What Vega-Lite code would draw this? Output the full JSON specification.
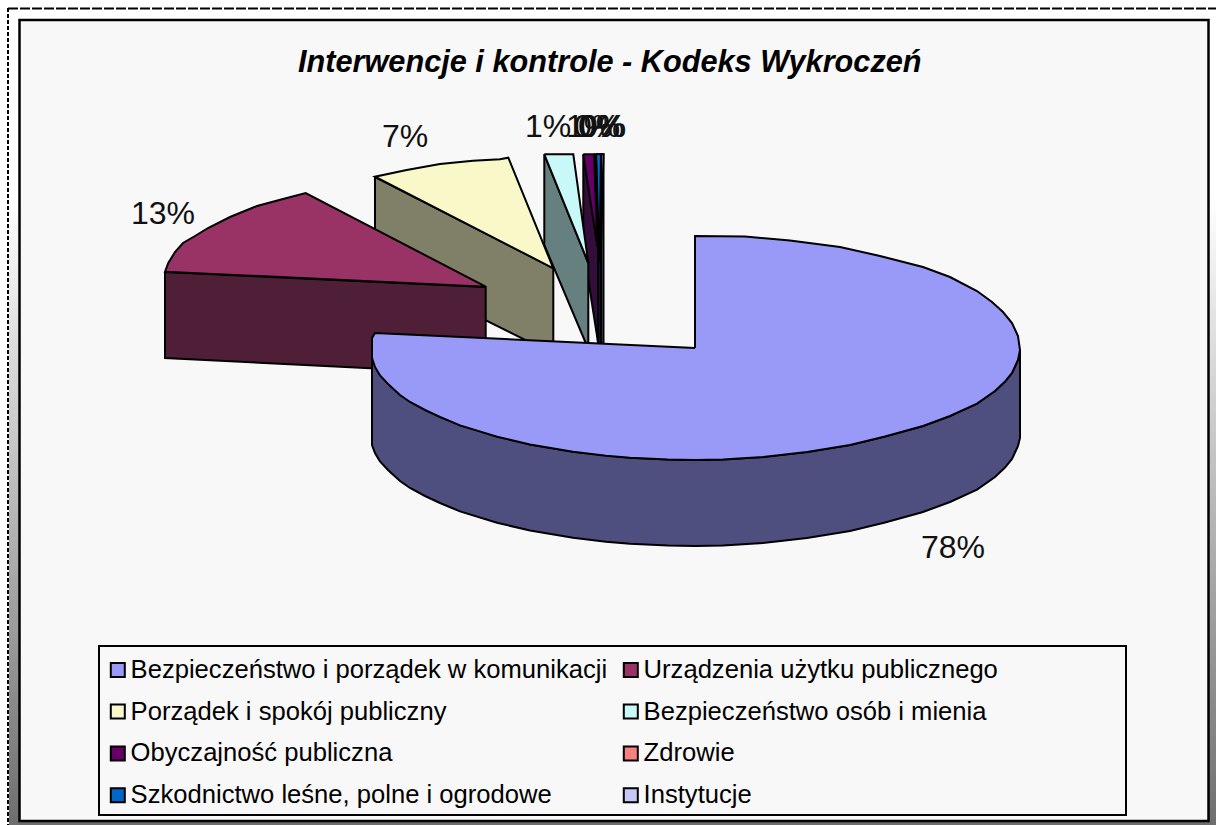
{"$schema":"https://vega.github.io/schema/vega-lite/v6.json","width":1216,"height":825,"padding":0,"autosize":"none","background":"white","config":{"view":{"stroke":null},"font":"Liberation Sans"},"title":{"text":"Interwencje i kontrole - Kodeks Wykroczeń","font":"Liberation Sans","fontSize":30.7,"fontStyle":"italic","fontWeight":"bold","color":"black","anchor":"start","dx":298,"dy":103,"offset":0,"baseline":"alphabetic"},"datasets":{"one":[{"k":1}],"main":[
{"face":"wall","seq":1,"x":1020,"y":350},{"face":"wall","seq":2,"x":1018,"y":360},{"face":"wall","seq":3,"x":1012,"y":373},{"face":"wall","seq":4,"x":1005,"y":381.6},{"face":"wall","seq":5,"x":995,"y":391},{"face":"wall","seq":6,"x":977,"y":403.6},{"face":"wall","seq":7,"x":950,"y":416},{"face":"wall","seq":8,"x":923,"y":426},{"face":"wall","seq":9,"x":885,"y":436.5},{"face":"wall","seq":10,"x":850,"y":445},{"face":"wall","seq":11,"x":807,"y":452},{"face":"wall","seq":12,"x":763,"y":457},{"face":"wall","seq":13,"x":723,"y":459.5},{"face":"wall","seq":14,"x":695,"y":460},{"face":"wall","seq":15,"x":668,"y":459.6},{"face":"wall","seq":16,"x":630,"y":457.7},{"face":"wall","seq":17,"x":573,"y":451.8},{"face":"wall","seq":18,"x":530,"y":444.5},{"face":"wall","seq":19,"x":460,"y":425.4},{"face":"wall","seq":20,"x":400,"y":395},{"face":"wall","seq":21,"x":372,"y":358},{"face":"wall","seq":22,"x":372,"y":445},{"face":"wall","seq":23,"x":375,"y":453},{"face":"wall","seq":24,"x":380,"y":461.5},{"face":"wall","seq":25,"x":388,"y":470},{"face":"wall","seq":26,"x":400,"y":481},{"face":"wall","seq":27,"x":410,"y":488},{"face":"wall","seq":28,"x":425,"y":496},{"face":"wall","seq":29,"x":440,"y":503},{"face":"wall","seq":30,"x":460,"y":511.4},{"face":"wall","seq":31,"x":497,"y":522.8},{"face":"wall","seq":32,"x":530,"y":530.5},{"face":"wall","seq":33,"x":573,"y":537.8},{"face":"wall","seq":34,"x":606,"y":541.7},{"face":"wall","seq":35,"x":630,"y":543.7},{"face":"wall","seq":36,"x":668,"y":545.6},{"face":"wall","seq":37,"x":695,"y":546},{"face":"wall","seq":38,"x":723,"y":545.5},{"face":"wall","seq":39,"x":763,"y":543},{"face":"wall","seq":40,"x":807,"y":538},{"face":"wall","seq":41,"x":850,"y":531},{"face":"wall","seq":42,"x":885,"y":522.5},{"face":"wall","seq":43,"x":923,"y":512},{"face":"wall","seq":44,"x":950,"y":502},{"face":"wall","seq":45,"x":977,"y":489.6},{"face":"wall","seq":46,"x":995,"y":477},{"face":"wall","seq":47,"x":1005,"y":467.6},{"face":"wall","seq":48,"x":1012,"y":459},{"face":"wall","seq":49,"x":1018,"y":446},{"face":"wall","seq":50,"x":1020,"y":438},{"face":"wall","seq":51,"x":1020,"y":350},
{"face":"top","seq":1,"x":695,"y":348},{"face":"top","seq":2,"x":695,"y":236},{"face":"top","seq":3,"x":745,"y":236.5},{"face":"top","seq":4,"x":790,"y":240.5},{"face":"top","seq":5,"x":840,"y":247},{"face":"top","seq":6,"x":880,"y":256},{"face":"top","seq":7,"x":923,"y":267},{"face":"top","seq":8,"x":950,"y":277},{"face":"top","seq":9,"x":977,"y":291},{"face":"top","seq":10,"x":992,"y":302},{"face":"top","seq":11,"x":1003,"y":312},{"face":"top","seq":12,"x":1012,"y":323},{"face":"top","seq":13,"x":1018,"y":336},{"face":"top","seq":14,"x":1020,"y":350},{"face":"top","seq":15,"x":1018,"y":360},{"face":"top","seq":16,"x":1012,"y":373},{"face":"top","seq":17,"x":1005,"y":381.6},{"face":"top","seq":18,"x":995,"y":391},{"face":"top","seq":19,"x":977,"y":403.6},{"face":"top","seq":20,"x":950,"y":416},{"face":"top","seq":21,"x":923,"y":426},{"face":"top","seq":22,"x":885,"y":436.5},{"face":"top","seq":23,"x":850,"y":445},{"face":"top","seq":24,"x":807,"y":452},{"face":"top","seq":25,"x":763,"y":457},{"face":"top","seq":26,"x":723,"y":459.5},{"face":"top","seq":27,"x":695,"y":460},{"face":"top","seq":28,"x":668,"y":459.6},{"face":"top","seq":29,"x":630,"y":457.7},{"face":"top","seq":30,"x":606,"y":455.7},{"face":"top","seq":31,"x":573,"y":451.8},{"face":"top","seq":32,"x":530,"y":444.5},{"face":"top","seq":33,"x":497,"y":436.8},{"face":"top","seq":34,"x":460,"y":425.4},{"face":"top","seq":35,"x":440,"y":417},{"face":"top","seq":36,"x":425,"y":410},{"face":"top","seq":37,"x":410,"y":402},{"face":"top","seq":38,"x":400,"y":395},{"face":"top","seq":39,"x":388,"y":384},{"face":"top","seq":40,"x":380,"y":375.5},{"face":"top","seq":41,"x":375,"y":367},{"face":"top","seq":42,"x":372,"y":358},{"face":"top","seq":43,"x":372,"y":338},{"face":"top","seq":44,"x":375,"y":333},{"face":"top","seq":45,"x":695,"y":348}
],"shapes":[
{"slice":"Instytucje","face":"wall","seq":1,"x":601,"y":154.3},{"slice":"Instytucje","face":"wall","seq":2,"x":603.5,"y":154.3},{"slice":"Instytucje","face":"wall","seq":3,"x":603.5,"y":344},{"slice":"Instytucje","face":"wall","seq":4,"x":601,"y":344},{"slice":"Instytucje","face":"wall","seq":5,"x":601,"y":154.3},
{"slice":"Szkodnictwo leśne, polne i ogrodowe","face":"wall","seq":1,"x":596,"y":154.3},{"slice":"Szkodnictwo leśne, polne i ogrodowe","face":"wall","seq":2,"x":598.5,"y":250},{"slice":"Szkodnictwo leśne, polne i ogrodowe","face":"wall","seq":3,"x":598.5,"y":343},{"slice":"Szkodnictwo leśne, polne i ogrodowe","face":"wall","seq":4,"x":601,"y":343},{"slice":"Szkodnictwo leśne, polne i ogrodowe","face":"wall","seq":5,"x":601,"y":154.3},{"slice":"Szkodnictwo leśne, polne i ogrodowe","face":"wall","seq":6,"x":596,"y":154.3},
{"slice":"Zdrowie","face":"wall","seq":1,"x":594,"y":154.3},{"slice":"Zdrowie","face":"wall","seq":2,"x":598,"y":250},{"slice":"Zdrowie","face":"wall","seq":3,"x":598,"y":343},{"slice":"Zdrowie","face":"wall","seq":4,"x":594,"y":250},{"slice":"Zdrowie","face":"wall","seq":5,"x":594,"y":154.3},
{"slice":"Obyczajność publiczna","face":"wall","seq":1,"x":583.3,"y":154.3},{"slice":"Obyczajność publiczna","face":"wall","seq":2,"x":598,"y":247},{"slice":"Obyczajność publiczna","face":"wall","seq":3,"x":598,"y":342},{"slice":"Obyczajność publiczna","face":"wall","seq":4,"x":583.3,"y":248},{"slice":"Obyczajność publiczna","face":"wall","seq":5,"x":583.3,"y":154.3},
{"slice":"Bezpieczeństwo osób i mienia","face":"wall","seq":1,"x":544.3,"y":154.3},{"slice":"Bezpieczeństwo osób i mienia","face":"wall","seq":2,"x":588.3,"y":263},{"slice":"Bezpieczeństwo osób i mienia","face":"wall","seq":3,"x":588.3,"y":349},{"slice":"Bezpieczeństwo osób i mienia","face":"wall","seq":4,"x":544.3,"y":245},{"slice":"Bezpieczeństwo osób i mienia","face":"wall","seq":5,"x":544.3,"y":154.3},
{"slice":"Porządek i spokój publiczny","face":"wall","seq":1,"x":375,"y":177},{"slice":"Porządek i spokój publiczny","face":"wall","seq":2,"x":553.3,"y":268},{"slice":"Porządek i spokój publiczny","face":"wall","seq":3,"x":553.3,"y":354},{"slice":"Porządek i spokój publiczny","face":"wall","seq":4,"x":375,"y":265},{"slice":"Porządek i spokój publiczny","face":"wall","seq":5,"x":375,"y":177},
{"slice":"Urządzenia użytku publicznego","face":"wall","seq":1,"x":165,"y":272},{"slice":"Urządzenia użytku publicznego","face":"wall","seq":2,"x":485.7,"y":287},{"slice":"Urządzenia użytku publicznego","face":"wall","seq":3,"x":485.7,"y":374},{"slice":"Urządzenia użytku publicznego","face":"wall","seq":4,"x":165,"y":358},{"slice":"Urządzenia użytku publicznego","face":"wall","seq":5,"x":165,"y":272},
{"slice":"Instytucje","face":"top","seq":1,"x":601,"y":154.3},{"slice":"Instytucje","face":"top","seq":2,"x":603.5,"y":154.3},{"slice":"Instytucje","face":"top","seq":3,"x":601,"y":250},{"slice":"Instytucje","face":"top","seq":4,"x":601,"y":154.3},
{"slice":"Szkodnictwo leśne, polne i ogrodowe","face":"top","seq":1,"x":596,"y":154.3},{"slice":"Szkodnictwo leśne, polne i ogrodowe","face":"top","seq":2,"x":601,"y":154.3},{"slice":"Szkodnictwo leśne, polne i ogrodowe","face":"top","seq":3,"x":599.5,"y":262},{"slice":"Szkodnictwo leśne, polne i ogrodowe","face":"top","seq":4,"x":596,"y":154.3},
{"slice":"Zdrowie","face":"top","seq":1,"x":594,"y":154.3},{"slice":"Zdrowie","face":"top","seq":2,"x":596,"y":154.3},{"slice":"Zdrowie","face":"top","seq":3,"x":598,"y":250},{"slice":"Zdrowie","face":"top","seq":4,"x":594,"y":154.3},
{"slice":"Obyczajność publiczna","face":"top","seq":1,"x":583.3,"y":154.3},{"slice":"Obyczajność publiczna","face":"top","seq":2,"x":594,"y":154.3},{"slice":"Obyczajność publiczna","face":"top","seq":3,"x":597.5,"y":247},{"slice":"Obyczajność publiczna","face":"top","seq":4,"x":583.3,"y":154.3},
{"slice":"Bezpieczeństwo osób i mienia","face":"top","seq":1,"x":544.3,"y":154.3},{"slice":"Bezpieczeństwo osób i mienia","face":"top","seq":2,"x":573.3,"y":154.3},{"slice":"Bezpieczeństwo osób i mienia","face":"top","seq":3,"x":588.3,"y":263},{"slice":"Bezpieczeństwo osób i mienia","face":"top","seq":4,"x":544.3,"y":154.3},
{"slice":"Porządek i spokój publiczny","face":"top","seq":1,"x":553.3,"y":268.3},{"slice":"Porządek i spokój publiczny","face":"top","seq":2,"x":375,"y":176.7},{"slice":"Porządek i spokój publiczny","face":"top","seq":3,"x":406.7,"y":170},{"slice":"Porządek i spokój publiczny","face":"top","seq":4,"x":440,"y":164},{"slice":"Porządek i spokój publiczny","face":"top","seq":5,"x":473,"y":160.7},{"slice":"Porządek i spokój publiczny","face":"top","seq":6,"x":500,"y":159.3},{"slice":"Porządek i spokój publiczny","face":"top","seq":7,"x":508.3,"y":157.7},{"slice":"Porządek i spokój publiczny","face":"top","seq":8,"x":553.3,"y":268.3},
{"slice":"Urządzenia użytku publicznego","face":"top","seq":1,"x":485.7,"y":286.7},{"slice":"Urządzenia użytku publicznego","face":"top","seq":2,"x":165,"y":271.7},{"slice":"Urządzenia użytku publicznego","face":"top","seq":3,"x":168.3,"y":263},{"slice":"Urządzenia użytku publicznego","face":"top","seq":4,"x":175,"y":252},{"slice":"Urządzenia użytku publicznego","face":"top","seq":5,"x":183,"y":243},{"slice":"Urządzenia użytku publicznego","face":"top","seq":6,"x":195,"y":236},{"slice":"Urządzenia użytku publicznego","face":"top","seq":7,"x":208,"y":228},{"slice":"Urządzenia użytku publicznego","face":"top","seq":8,"x":230,"y":217},{"slice":"Urządzenia użytku publicznego","face":"top","seq":9,"x":257,"y":206},{"slice":"Urządzenia użytku publicznego","face":"top","seq":10,"x":283,"y":199},{"slice":"Urządzenia użytku publicznego","face":"top","seq":11,"x":305.7,"y":193},{"slice":"Urządzenia użytku publicznego","face":"top","seq":12,"x":485.7,"y":286.7}
],"labels":[{"label":"78%","x":921,"y":558},{"label":"13%","x":131,"y":224},{"label":"7%","x":382,"y":147},{"label":"1%","x":525,"y":137},{"label":"1%","x":566,"y":137},{"label":"0%","x":574,"y":137},{"label":"0%","x":578,"y":137},{"label":"0%","x":580,"y":137}]},
"layer":[
{"data":{"name":"one"},"mark":{"type":"rect","fill":{"gradient":"linear","x1":0,"y1":0,"x2":0,"y2":1,"stops":[{"offset":0,"color":"#ffffff"},{"offset":0.23,"color":"#ffffff"},{"offset":1,"color":"#6e6e6e"}]}},"encoding":{"x":{"datum":9,"type":"quantitative","scale":{"domain":[0,1216],"nice":false,"zero":false},"axis":null},"x2":{"datum":1216},"y":{"datum":9,"type":"quantitative","scale":{"domain":[825,0],"nice":false,"zero":false},"axis":null},"y2":{"datum":825}}},
{"data":{"name":"one"},"mark":{"type":"rule","stroke":"black","strokeWidth":2,"strokeDash":[4,2]},"encoding":{"x":{"datum":8,"type":"quantitative"},"y":{"datum":8,"type":"quantitative"},"y2":{"datum":825}}},
{"data":{"name":"one"},"mark":{"type":"rule","stroke":"black","strokeWidth":2,"strokeDash":[10,2]},"encoding":{"y":{"datum":8.5,"type":"quantitative"},"x":{"datum":8,"type":"quantitative"},"x2":{"datum":1216}}},
{"data":{"name":"one"},"mark":{"type":"rect","fill":"#f8f8f8","stroke":"black","strokeWidth":2.5},"encoding":{"x":{"datum":19.5,"type":"quantitative"},"x2":{"datum":1208.5},"y":{"datum":20,"type":"quantitative"},"y2":{"datum":821}}},
{"data":{"name":"one"},"mark":{"type":"rect","fill":"#f8f8f8","stroke":"black","strokeWidth":2},"encoding":{"x":{"datum":99,"type":"quantitative"},"x2":{"datum":1126},"y":{"datum":646,"type":"quantitative"},"y2":{"datum":815}}},
{"data":{"name":"shapes"},"transform":[{"filter":"datum.face === 'wall'"}],"mark":{"type":"line","filled":true,"stroke":"black","strokeWidth":2,"strokeJoin":"miter"},"encoding":{"x":{"field":"x","type":"quantitative"},"y":{"field":"y","type":"quantitative"},"order":{"field":"seq","type":"quantitative"},"color":{"field":"slice","type":"nominal","legend":null,"scale":{"domain":["Bezpieczeństwo i porządek w komunikacji","Urządzenia użytku publicznego","Porządek i spokój publiczny","Bezpieczeństwo osób i mienia","Obyczajność publiczna","Zdrowie","Szkodnictwo leśne, polne i ogrodowe","Instytucje"],"range":["#4F4F7F","#4F1F38","#808068","#667F7F","#350D3B","#7C4040","#033360","#64647C"]}}}},
{"data":{"name":"shapes"},"transform":[{"filter":"datum.face === 'top'"}],"mark":{"type":"line","filled":true,"stroke":"black","strokeWidth":2,"strokeJoin":"miter"},"encoding":{"x":{"field":"x","type":"quantitative"},"y":{"field":"y","type":"quantitative"},"order":{"field":"seq","type":"quantitative"},"color":{"field":"slice","type":"nominal","scale":{"domain":["Bezpieczeństwo i porządek w komunikacji","Urządzenia użytku publicznego","Porządek i spokój publiczny","Bezpieczeństwo osób i mienia","Obyczajność publiczna","Zdrowie","Szkodnictwo leśne, polne i ogrodowe","Instytucje"],"range":["#9999F8","#993366","#F8F8C8","#C8F8F8","#660066","#F88080","#0066C8","#C8C8F8"]},"legend":{"title":null,"orient":"none","direction":"horizontal","legendX":95,"legendY":647,"columns":2,"padding":10,"symbolType":"square","symbolSize":196,"symbolStrokeColor":"black","symbolStrokeWidth":2,"labelFont":"Liberation Sans","labelFontSize":25.6,"labelColor":"black","labelLimit":600,"labelOffset":0,"rowPadding":14.8,"columnPadding":10}}}},
{"data":{"name":"main"},"transform":[{"filter":"datum.face === 'wall'"}],"mark":{"type":"line","filled":true,"fill":"#4F4F7F","stroke":"black","strokeWidth":2,"strokeJoin":"miter"},"encoding":{"x":{"field":"x","type":"quantitative"},"y":{"field":"y","type":"quantitative"},"order":{"field":"seq","type":"quantitative"}}},
{"data":{"name":"main"},"transform":[{"filter":"datum.face === 'top'"}],"mark":{"type":"line","filled":true,"fill":"#9999F8","stroke":"black","strokeWidth":2,"strokeJoin":"miter"},"encoding":{"x":{"field":"x","type":"quantitative"},"y":{"field":"y","type":"quantitative"},"order":{"field":"seq","type":"quantitative"}}},
{"data":{"name":"labels"},"mark":{"type":"text","font":"Liberation Sans","fontSize":32,"align":"left","baseline":"alphabetic","color":"#111111"},"encoding":{"x":{"field":"x","type":"quantitative"},"y":{"field":"y","type":"quantitative"},"text":{"field":"label","type":"nominal"}}}
],"resolve":{"scale":{"color":"independent"},"legend":{"color":"independent"}}}
